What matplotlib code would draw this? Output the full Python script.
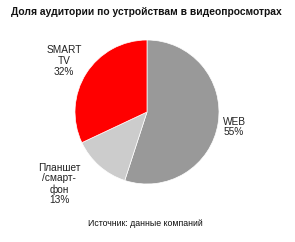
import matplotlib
matplotlib.use("Agg")
import matplotlib.pyplot as plt

categories = ["WEB", "Планшет\n/смарт-\nфон", "SMART\nTV"]
values = [55, 13, 32]
colors = ["#999999", "#CCCCCC", "#FF0000"]
title = "Доля аудитории по устройствам в видеопросмотрах"
source = "Источник: данные компаний"

plt.rcParams['font.family'] = ['Liberation Sans', 'DejaVu Sans']

W, H = 295, 242
cx, cy, r = 147, 112, 72
fig = plt.figure(figsize=(W/100, H/100), dpi=100)
ax = fig.add_axes([(cx - r)/W, 1 - (cy + r)/H, 2*r/W, 2*r/H])
ax.pie(values, colors=colors, startangle=90, counterclock=False,
       wedgeprops=dict(edgecolor="white", linewidth=0.5))
ax.set_xlim(-1, 1)
ax.set_ylim(-1, 1)
ax.set_aspect("equal")

label_pos = [(234, 127), (59, 184), (64, 61)]
for cat, v, (x, y) in zip(categories, values, label_pos):
    fig.text(x/W, 1 - y/H, f"{cat}\n{v}%", ha="center", va="center",
             fontsize=7.3, color="#222222", linespacing=1.1)

fig.text(146/W, 1 - 12/H, title, ha="center", va="center",
         fontsize=7.4, fontweight="bold", color="#111111")
fig.text(145/W, 1 - 224/H, source, ha="center", va="center",
         fontsize=6.3, color="#111111")

fig.savefig("out.png", dpi=100)
